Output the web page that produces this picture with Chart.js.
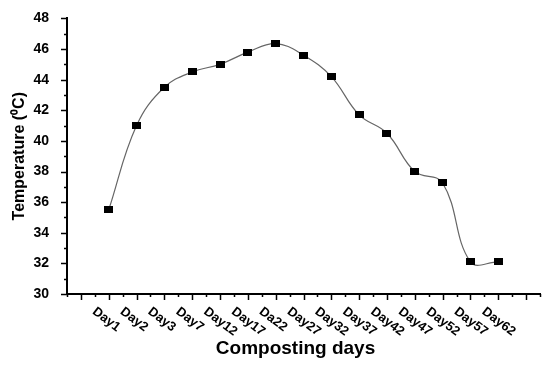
<!DOCTYPE html>
<html>
<head>
<meta charset="utf-8">
<script src="https://cdn.jsdelivr.net/npm/chart.js@4/dist/chart.umd.min.js"></script>
<style>
  html, body { margin: 0; padding: 0; background: #fff; }
  #wrap { width: 550px; height: 365px; }
</style>
</head>
<body>
<div id="wrap"><canvas id="myChart" width="550" height="365"></canvas></div>
<script>
// data
const days = ["Day1", "Day2", "Day3", "Day7", "Day12", "Day17", "Da22", "Day27",
              "Day32", "Day37", "Day42", "Day47", "Day52", "Day57", "Day62"];
const temps = [35.5, 41.0, 43.5, 44.5, 45.0, 45.8, 46.35, 45.6,
               44.2, 41.7, 40.5, 38.0, 37.25, 32.1, 32.1];
const yTicks = [30, 32, 34, 36, 38, 40, 42, 44, 46, 48];

const FONT = "'Liberation Sans', Arial, sans-serif";

// little 9x7 black box used as marker
const marker = document.createElement('canvas');
marker.width = 9; marker.height = 7;
marker.getContext('2d').fillRect(0, 0, 9, 7);

// tick marks, slanted day labels and the x title
const axisExtras = {
    id: 'axisExtras',
    afterDraw(chart) {
        const ctx = chart.ctx;
        const xs = chart.scales.x, ys = chart.scales.y;
        const a = chart.chartArea;
        ctx.save();
        ctx.strokeStyle = '#000';
        ctx.lineWidth = 1.5;
        ctx.beginPath();
        for (let v = -1.5; v <= 15.5; v += 0.5) {
            const px = Math.round(xs.getPixelForValue(v)) + 0.5;
            const len = Number.isInteger(v) ? 6 : 3;
            ctx.moveTo(px, a.bottom);
            ctx.lineTo(px, a.bottom + len);
        }
        for (let v = 30; v <= 48; v += 1) {
            const py = Math.round(ys.getPixelForValue(v)) + 0.5;
            const len = v % 2 === 0 ? 6 : 3;
            ctx.moveTo(a.left, py);
            ctx.lineTo(a.left - len, py);
        }
        ctx.stroke();

        ctx.fillStyle = '#000';
        ctx.font = 'bold 13px ' + FONT;
        ctx.textAlign = 'left';
        ctx.textBaseline = 'top';
        days.forEach(function(d, i) {
            const px = xs.getPixelForValue(i);
            ctx.save();
            ctx.translate(px - 11, a.bottom + 11);
            ctx.rotate(37 * Math.PI / 180);
            ctx.fillText(d, 0, 0);
            ctx.restore();
        });

        ctx.font = 'bold 19px ' + FONT;
        ctx.textAlign = 'center';
        ctx.textBaseline = 'middle';
        ctx.fillText('Composting days', (a.left + a.right) / 2 - 8, a.bottom + 55);
        ctx.restore();
    }
};

var ctx = document.getElementById("myChart").getContext('2d');
var myChart = new Chart(ctx, {
    type: 'line',
    data: {
        datasets: [{
            label: 'Temperature',
            data: temps.map(function(t, i) { return {x: i, y: t}; }),
            borderColor: '#666',
            borderWidth: 1.2,
            tension: 0.4,
            pointStyle: marker,
            pointRadius: 4,
            fill: false
        }]
    },
    options: {
        responsive: false,
        animation: false,
        layout: { padding: { top: 10, right: 10, left: 0, bottom: 0 } },
        plugins: { legend: { display: false }, tooltip: { enabled: false } },
        scales: {
            x: {
                type: 'linear',
                min: -1.5,
                max: 15.5,
                grid: { display: false },
                border: { display: true, color: '#000', width: 2 },
                ticks: { display: false },
                afterFit: function(s) { s.height = 71; }
            },
            y: {
                min: 30,
                max: 48,
                grid: { display: false },
                border: { display: true, color: '#000', width: 2 },
                afterBuildTicks: function(s) {
                    s.ticks = yTicks.map(function(v) { return {value: v}; });
                },
                ticks: {
                    color: '#000',
                    padding: 10,
                    font: { family: FONT, size: 14, weight: 'bold' }
                },
                title: {
                    display: true,
                    text: 'Temperature (\u2070C)',
                    color: '#000',
                    font: { family: FONT, size: 16, weight: 'bold' },
                    padding: { top: 10, bottom: 0 }
                },
                afterFit: function(s) { s.width = 67; }
            }
        }
    },
    plugins: [axisExtras]
});
</script>
</body>
</html>
